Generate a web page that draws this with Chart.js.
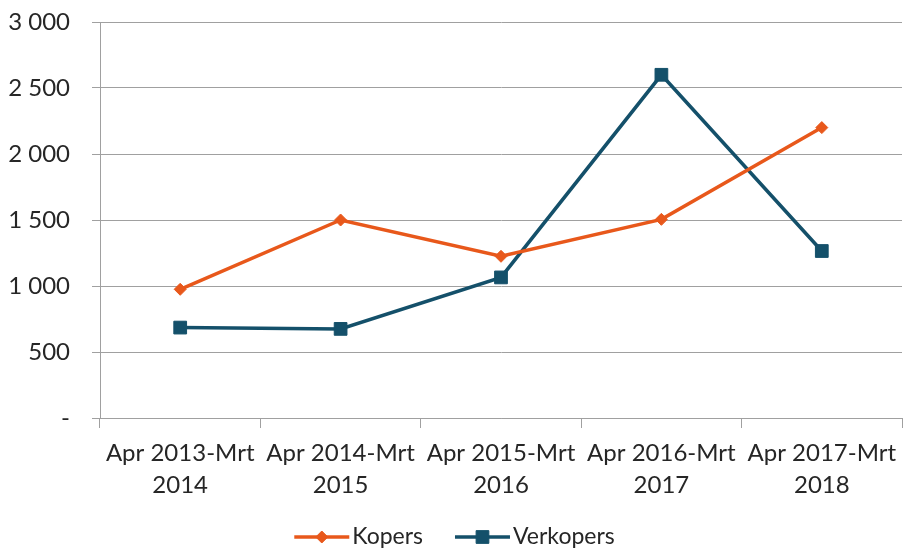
<!DOCTYPE html>
<html>
<head>
<meta charset="utf-8">
<script src="https://cdn.jsdelivr.net/npm/chart.js@4/dist/chart.umd.min.js"></script>
<style>
  html, body { margin: 0; padding: 0; background: #fff; }
  #wrap { width: 903px; height: 548px; }
</style>
</head>
<body>
<div id="wrap"><canvas id="chart" width="903" height="548"></canvas></div>
<script>
// data
const periods = [
    ['Apr 2013-Mrt', '2014'],
    ['Apr 2014-Mrt', '2015'],
    ['Apr 2015-Mrt', '2016'],
    ['Apr 2016-Mrt', '2017'],
    ['Apr 2017-Mrt', '2018']
];
const kopers = [975, 1500, 1225, 1505, 2200];
const verkopers = [685, 675, 1065, 2600, 1265];
const yTicks = [0, 500, 1000, 1500, 2000, 2500, 3000];

const ORANGE = '#e8581b';
const TEAL = '#14506a';
const GRID = '#a0a0a0';
const TEXT = '#262626';
const FONT = 'Lato';
const LINE_W = 3.5;

function fmt(v) {
    if (v === 0) return '-';
    return String(v).replace(/\B(?=(\d{3})+(?!\d))/g, ' ');
}

// Excel-style legend: short line with the marker on it, then the name
const lineLegend = {
    id: 'lineLegend',
    afterDraw(chart) {
        const c = chart.ctx;
        const y = 537;
        const lineLen = 55, gapText = 3, gapItem = 32;
        c.save();
        c.font = '23px ' + FONT;
        c.textBaseline = 'middle';
        const items = chart.data.datasets.map((ds) => ({
            ds,
            w: c.measureText(ds.label).width
        }));
        let total = 0;
        items.forEach((it, i) => {
            total += lineLen + gapText + it.w + (i < items.length - 1 ? gapItem : 0);
        });
        let x = chart.width / 2 + 3 - total / 2;
        items.forEach((it) => {
            const ds = it.ds;
            c.strokeStyle = ds.borderColor;
            c.lineWidth = LINE_W;
            c.beginPath();
            c.moveTo(x, y);
            c.lineTo(x + lineLen, y);
            c.stroke();
            c.fillStyle = ds.backgroundColor;
            c.lineWidth = 1;
            Chart.helpers.drawPoint(c, {
                pointStyle: ds.pointStyle,
                radius: ds.pointRadius,
                rotation: 0,
                borderWidth: 1
            }, x + lineLen / 2, y);
            c.fillStyle = TEXT;
            c.fillText(ds.label, x + lineLen + gapText, y);
            x += lineLen + gapText + it.w + gapItem;
        });
        c.restore();
    }
};

const ctx = document.getElementById('chart').getContext('2d');
new Chart(ctx, {
    type: 'line',
    data: {
        labels: periods,
        datasets: [
            {
                label: 'Kopers',
                data: kopers,
                borderColor: ORANGE,
                backgroundColor: ORANGE,
                borderWidth: LINE_W,
                pointStyle: 'rectRot',
                pointRadius: 6,
                pointBorderWidth: 1,
                tension: 0
            },
            {
                label: 'Verkopers',
                data: verkopers,
                borderColor: TEAL,
                backgroundColor: TEAL,
                borderWidth: LINE_W,
                pointStyle: 'rect',
                pointRadius: 9,
                pointBorderWidth: 1,
                tension: 0
            }
        ]
    },
    plugins: [lineLegend],
    options: {
        responsive: false,
        animation: false,
        layout: { autoPadding: false, padding: { top: 22, right: 1, left: 0, bottom: 0 } },
        scales: {
            x: {
                offset: true,
                grid: {
                    offset: true,
                    drawOnChartArea: false,
                    drawTicks: true,
                    tickLength: 10,
                    color: GRID
                },
                border: { color: GRID },
                ticks: {
                    color: TEXT,
                    font: { family: FONT, size: 24, lineHeight: 1.33 },
                    padding: 9,
                    maxRotation: 0,
                    autoSkip: false
                },
                afterFit: (s) => {
                    s.height = 130;
                    s.paddingLeft = 0;
                    s.paddingRight = 0;
                }
            },
            y: {
                min: 0,
                max: 3000,
                afterBuildTicks: (s) => { s.ticks = yTicks.map(v => ({ value: v })); },
                grid: { color: GRID, tickLength: 8 },
                border: { color: GRID },
                ticks: {
                    color: TEXT,
                    font: { family: FONT, size: 24 },
                    padding: 22,
                    callback: (v) => fmt(v)
                },
                afterFit: (s) => {
                    s.width = 100;
                    s.paddingTop = 0;
                    s.paddingBottom = 0;
                }
            }
        },
        plugins: {
            tooltip: { enabled: false },
            legend: { display: false }
        }
    }
});
</script>
</body>
</html>
